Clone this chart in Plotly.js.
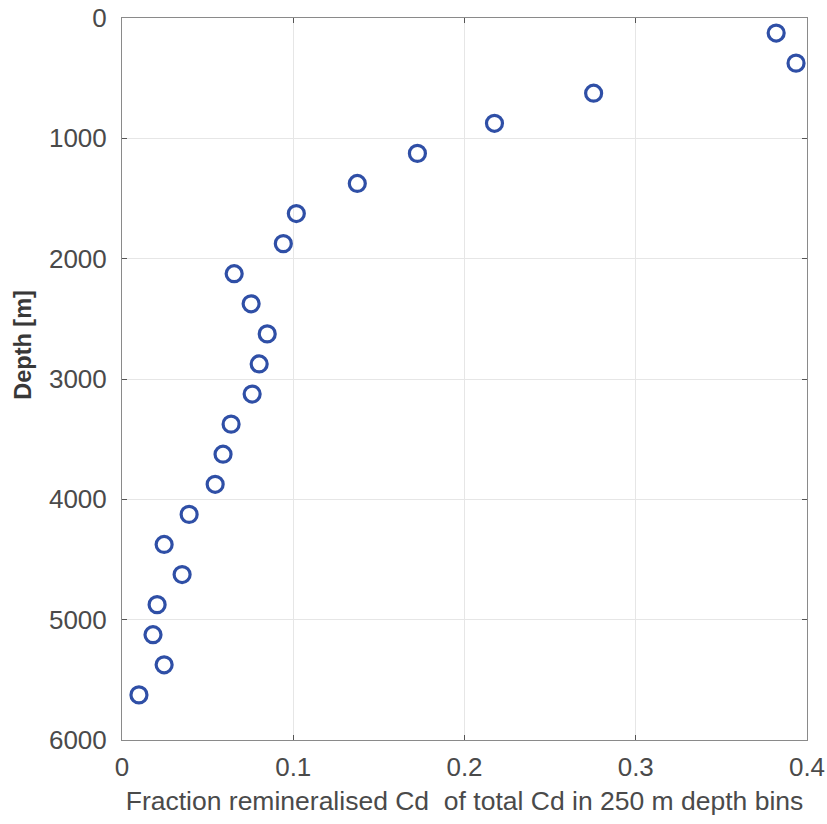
<!DOCTYPE html>
<html><head><meta charset="utf-8">
<script src="https://cdn.plot.ly/plotly-3.0.1.min.js"></script>
<style>body{margin:0;padding:0;background:#fff}#chart{width:827px;height:824px}</style>
</head><body><div id="chart"></div>
<script>
const depth = [125,375,625,875,1125,1375,1625,1875,2125,2375,2625,2875,3125,3375,3625,3875,4125,4375,4625,4875,5125,5375,5625];
const fraction = [0.382,0.3936,0.2754,0.2175,0.1725,0.1374,0.1018,0.0942,0.0655,0.0754,0.0848,0.0801,0.076,0.0637,0.059,0.0544,0.0392,0.0246,0.0351,0.0205,0.0181,0.0246,0.0099];
const xTicks = [0,0.1,0.2,0.3,0.4];
const xTickText = ['0','0.1','0.2','0.3','0.4'];
const yTicks = [0,1000,2000,3000,4000,5000,6000];
const yTickText = ['0','1000','2000','3000','4000','5000','6000'];
const yTitle = 'Depth [m]';
const xTitle = 'Fraction remineralised Cd  of total Cd in 250 m depth bins';

const fontFam = '"Liberation Sans",Arial,sans-serif';
const trace = {
  x: fraction, y: depth, type: 'scatter', mode: 'markers',
  marker: {symbol: 'circle-open', size: 16, color: '#2f4fa6', line: {width: 3.2, color: '#2f4fa6'}},
  cliponaxis: false, hoverinfo: 'none'
};
const axisCommon = {
  showline: true, linecolor: '#8a8a8a', linewidth: 1, mirror: 'ticks',
  ticks: 'inside', ticklen: 5, tickcolor: '#555', tickwidth: 1,
  showgrid: true, gridcolor: '#e6e6e6', gridwidth: 1, zeroline: false,
  tickfont: {family: fontFam, size: 26, color: '#4a4a4a'}
};
const layout = {
  width: 827, height: 824,
  margin: {l: 122, r: 20, t: 18, b: 84},
  paper_bgcolor: '#fff', plot_bgcolor: '#fff',
  showlegend: false,
  xaxis: Object.assign({}, axisCommon, {
    range: [0, 0.4], tickvals: xTicks, ticktext: xTickText, ticklabelstandoff: 4,
    title: {text: xTitle, font: {family: fontFam, size: 26.5, color: '#4a4a4a'}, standoff: 10}
  }),
  yaxis: Object.assign({}, axisCommon, {
    range: [6000, 0], tickvals: yTicks, ticktext: yTickText, ticklabelstandoff: 9
  }),
  annotations: [{
    text: '<b>' + yTitle + '</b>', xref: 'paper', yref: 'paper',
    x: -0.145, y: 0.547, xanchor: 'center', yanchor: 'middle',
    textangle: -90, showarrow: false,
    font: {family: fontFam, size: 23.5, color: '#383838'}
  }]
};
Plotly.newPlot('chart', [trace], layout, {displayModeBar: false, staticPlot: true});
</script></body></html>
